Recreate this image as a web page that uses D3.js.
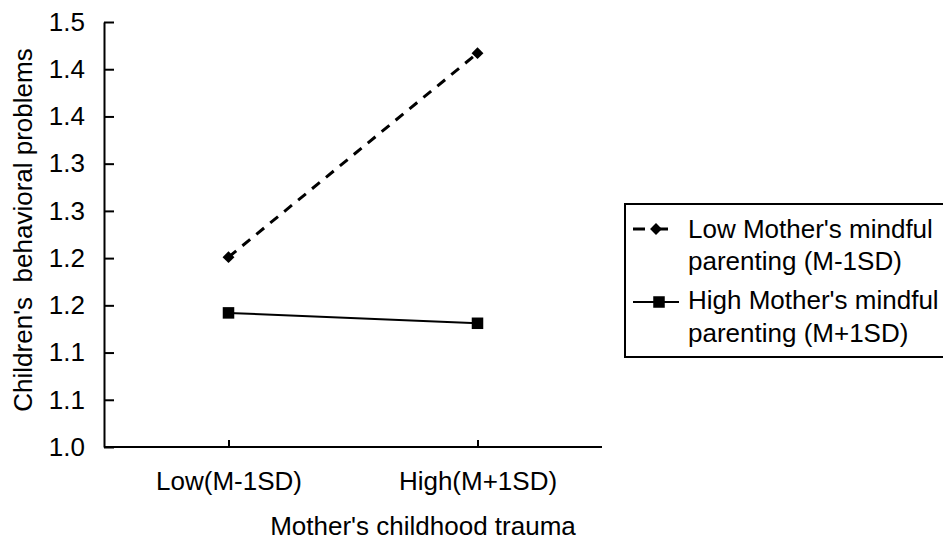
<!DOCTYPE html>
<html>
<head>
<meta charset="utf-8">
<script src="https://cdn.jsdelivr.net/npm/d3@7"></script>
<style>
  html, body { margin: 0; padding: 0; background: #fff; }
  svg { display: block; }
  text { font-family: "Liberation Sans", Arial, sans-serif; fill: #000; }
</style>
</head>
<body>
<svg id="chart" width="943" height="540"></svg>
<script>
// Categories along the x axis (mother's childhood trauma level)
const categories = ["Low(M-1SD)", "High(M+1SD)"];

// Simple-slope values for children's behavioral problems
const lowMindful = [1.251, 1.467];   // Low Mother's mindful parenting (M-1SD)
const highMindful = [1.192, 1.181];  // High Mother's mindful parenting (M+1SD)

// Y axis ticks and their printed labels (one decimal place)
const yTicks = [1.05, 1.10, 1.15, 1.20, 1.25, 1.30, 1.35, 1.40, 1.45, 1.50];
const yTickLabels = ["1.0", "1.1", "1.1", "1.2", "1.2", "1.3", "1.3", "1.4", "1.4", "1.5"];

const seriesNames = [
  ["Low Mother's mindful", "parenting (M-1SD)"],
  ["High Mother's mindful", "parenting (M+1SD)"]
];

const svg = d3.select("#chart");
const plot = { left: 104, right: 602, top: 22, bottom: 447 };
const fontSize = 26;

const x = d3.scalePoint()
  .domain(categories)
  .range([plot.left, plot.right])
  .padding(0.5);

const y = d3.scaleLinear()
  .domain([1.05, 1.50])
  .range([plot.bottom, plot.top]);

// Y axis with inward ticks
const yAxis = d3.axisLeft(y)
  .tickValues(yTicks)
  .tickFormat((d, i) => yTickLabels[i])
  .tickSizeInner(-10)
  .tickSizeOuter(0)
  .tickPadding(19);

const gy = svg.append("g")
  .attr("transform", `translate(${plot.left},0)`)
  .call(yAxis);
gy.select(".domain").attr("stroke", "#000").attr("stroke-width", 2);
gy.selectAll(".tick line").attr("stroke", "#000").attr("stroke-width", 2);
gy.selectAll(".tick text")
  .attr("font-size", fontSize)
  .attr("font-family", "Liberation Sans, Arial, sans-serif")
  .attr("fill", "#000");

// X axis with inward ticks
const xAxis = d3.axisBottom(x)
  .tickSizeInner(-7)
  .tickSizeOuter(0)
  .tickPadding(25);

const gx = svg.append("g")
  .attr("transform", `translate(0,${plot.bottom})`)
  .call(xAxis);
gx.select(".domain")
  .attr("d", `M${plot.left},0H${plot.right}`)
  .attr("stroke", "#000").attr("stroke-width", 2);
gx.selectAll(".tick line").attr("stroke", "#000").attr("stroke-width", 2);
gx.selectAll(".tick text")
  .attr("font-size", fontSize)
  .attr("font-family", "Liberation Sans, Arial, sans-serif")
  .attr("fill", "#000");

// Axis titles
svg.append("text")
  .attr("x", 423)
  .attr("y", 535)
  .attr("text-anchor", "middle")
  .attr("font-size", fontSize)
  .text("Mother's childhood trauma");

svg.append("text")
  .attr("transform", "translate(32,230) rotate(-90)")
  .attr("text-anchor", "middle")
  .attr("font-size", fontSize)
  .attr("xml:space", "preserve")
  .text("Children's  behavioral problems");

// Series lines
const line = d3.line()
  .x((d, i) => x(categories[i]))
  .y(d => y(d));

svg.append("path")
  .datum(lowMindful)
  .attr("d", line)
  .attr("fill", "none")
  .attr("stroke", "#000")
  .attr("stroke-width", 3)
  .attr("stroke-dasharray", "10,8");

svg.append("path")
  .datum(highMindful)
  .attr("d", line)
  .attr("fill", "none")
  .attr("stroke", "#000")
  .attr("stroke-width", 2);

// Markers
const diamond = d3.symbol().type(d3.symbolDiamond2).size(90);
const square = d3.symbol().type(d3.symbolSquare2).size(169);

svg.selectAll(".m-low")
  .data(lowMindful)
  .join("path")
  .attr("class", "m-low")
  .attr("d", diamond)
  .attr("transform", (d, i) => `translate(${x(categories[i])},${y(d)})`)
  .attr("fill", "#000");

svg.selectAll(".m-high")
  .data(highMindful)
  .join("path")
  .attr("class", "m-high")
  .attr("d", square)
  .attr("transform", (d, i) => `translate(${x(categories[i])},${y(d)})`)
  .attr("fill", "#000");

// Legend
const legend = svg.append("g");
legend.append("rect")
  .attr("x", 625).attr("y", 204)
  .attr("width", 330).attr("height", 153)
  .attr("fill", "#fff")
  .attr("stroke", "#000")
  .attr("stroke-width", 2);

// Entry 1: dashed line with diamond
legend.append("line")
  .attr("x1", 633).attr("x2", 645).attr("y1", 229).attr("y2", 229)
  .attr("stroke", "#000").attr("stroke-width", 3);
legend.append("line")
  .attr("x1", 660).attr("x2", 668).attr("y1", 229).attr("y2", 229)
  .attr("stroke", "#000").attr("stroke-width", 3);
legend.append("path")
  .attr("d", diamond)
  .attr("transform", "translate(656,229)")
  .attr("fill", "#000");

// Entry 2: solid line with square
legend.append("line")
  .attr("x1", 633).attr("x2", 679).attr("y1", 302).attr("y2", 302)
  .attr("stroke", "#000").attr("stroke-width", 2);
legend.append("path")
  .attr("d", square)
  .attr("transform", "translate(659,302)")
  .attr("fill", "#000");

const baselines = [[238, 270], [309, 342]];
seriesNames.forEach((lines, i) => {
  lines.forEach((t, j) => {
    legend.append("text")
      .attr("x", 688)
      .attr("y", baselines[i][j])
      .attr("font-size", fontSize)
      .text(t);
  });
});
</script>
</body>
</html>
